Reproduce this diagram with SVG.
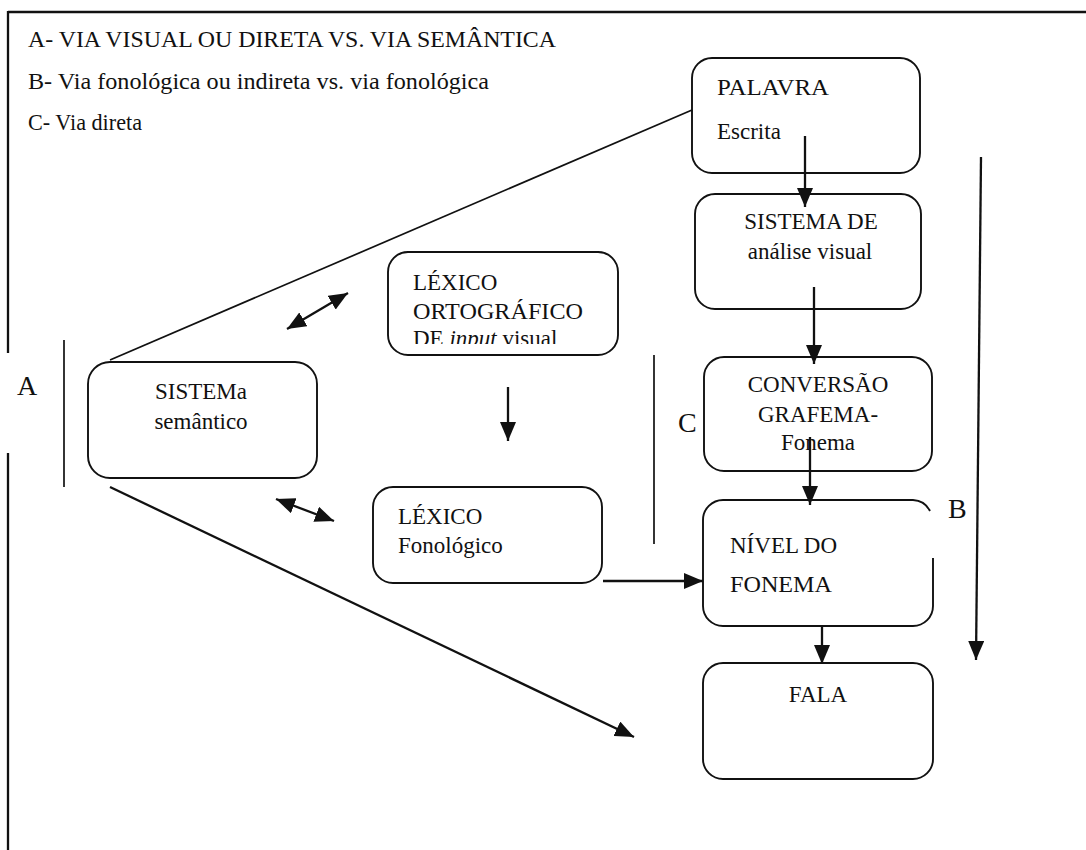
<svg xmlns="http://www.w3.org/2000/svg" width="1086" height="850" viewBox="0 0 1086 850">
<style>
  text { font-family: "Liberation Serif", Tinos, "Times New Roman", "DejaVu Serif", serif; font-size: 23px; fill: #111; }
  .big { font-size: 28px; }
  .box { fill: #fff; stroke: #111; stroke-width: 1.9; }
  .ln { fill: none; stroke: #111; stroke-width: 2.3; }
  .thin { fill: none; stroke: #111; stroke-width: 1.7; }
  .mid { text-anchor: middle; }
</style>
<defs>
  <marker id="ah" viewBox="0 0 19 16" refX="19" refY="8" markerWidth="19" markerHeight="16" orient="auto-start-reverse" markerUnits="userSpaceOnUse">
    <path d="M0,0 L19,8 L0,16 z" fill="#111"/>
  </marker>
  <clipPath id="clipOrto"><rect x="388" y="252" width="230" height="92"/></clipPath>
</defs>
<rect width="1086" height="850" fill="#fff"/>

<g id="frame">
  <line class="ln" x1="8" y1="12" x2="1086" y2="12"/>
  <line class="ln" x1="8" y1="11" x2="8" y2="353"/>
  <line class="ln" x1="8" y1="453" x2="8" y2="850"/>
</g>

<g id="legend">
  <text x="28" y="47" textLength="528" lengthAdjust="spacingAndGlyphs">A- VIA VISUAL OU DIRETA VS. VIA SEMÂNTICA</text>
  <text x="28" y="89" textLength="461" lengthAdjust="spacingAndGlyphs">B- Via fonológica ou indireta vs. via fonológica</text>
  <text x="28" y="130" textLength="114" lengthAdjust="spacingAndGlyphs">C- Via direta</text>
</g>

<g id="brackets">
  <line class="thin" x1="64" y1="340" x2="64" y2="487"/>
  <text class="big" x="17" y="395">A</text>
  <line class="thin" x1="654" y1="355" x2="654" y2="544"/>
  <text class="big" x="678" y="432">C</text>
  <text class="big" x="948" y="518">B</text>
</g>

<g id="palavra">
  <rect class="box" x="692" y="58" width="228" height="115" rx="20"/>
  <text x="717" y="95" textLength="112" lengthAdjust="spacingAndGlyphs">PALAVRA</text>
  <text x="717" y="139">Escrita</text>
</g>

<g id="sistema-analise">
  <rect class="box" x="695" y="194" width="226" height="115" rx="20"/>
  <text class="mid" x="811" y="229">SISTEMA DE</text>
  <text class="mid" x="810" y="259">análise visual</text>
</g>

<g id="lexico-ortografico">
  <rect class="box" x="388" y="252" width="230" height="103" rx="20"/>
  <g clip-path="url(#clipOrto)">
    <text x="413" y="290">LÉXICO</text>
    <text x="413" y="319" textLength="170" lengthAdjust="spacingAndGlyphs">ORTOGRÁFICO</text>
    <text x="413" y="346">DE <tspan font-style="italic">input</tspan> visual</text>
  </g>
</g>

<g id="sistema-semantico">
  <rect class="box" x="88" y="362" width="229" height="116" rx="22"/>
  <text class="mid" x="201" y="399">SISTEMa</text>
  <text class="mid" x="201" y="429">semântico</text>
</g>

<g id="lexico-fonologico">
  <rect class="box" x="373" y="487" width="229" height="96" rx="20"/>
  <text x="398" y="524">LÉXICO</text>
  <text x="398" y="553">Fonológico</text>
</g>

<g id="conversao">
  <rect class="box" x="704" y="357" width="228" height="114" rx="20"/>
  <text class="mid" x="818" y="392">CONVERSÃO</text>
  <text class="mid" x="818" y="422">GRAFEMA-</text>
  <text class="mid" x="818" y="450">Fonema</text>
</g>

<g id="nivel-fonema">
  <path class="box" d="M933,558 L933,606 A20,20 0 0 1 913,626 L723,626 A20,20 0 0 1 703,606 L703,520 A20,20 0 0 1 723,500 L913,500 A20,20 0 0 1 930,511"/>
  <text x="730" y="553">NÍVEL DO</text>
  <text x="730" y="592" textLength="102" lengthAdjust="spacingAndGlyphs">FONEMA</text>
</g>

<g id="fala">
  <rect class="box" x="703" y="663" width="230" height="116" rx="20"/>
  <text class="mid" x="818" y="702">FALA</text>
</g>

<g id="connectors">
  <line class="thin" x1="110" y1="360" x2="692" y2="110"/>
  <line class="ln" x1="805" y1="136" x2="805" y2="207" marker-end="url(#ah)"/>
  <line class="ln" x1="814" y1="287" x2="814" y2="364" marker-end="url(#ah)"/>
  <line class="ln" x1="810" y1="437" x2="810" y2="505" marker-end="url(#ah)"/>
  <line class="ln" x1="822" y1="626" x2="822" y2="664" marker-end="url(#ah)"/>
  <line class="ln" x1="981" y1="157" x2="976" y2="660" marker-end="url(#ah)"/>
  <line class="ln" x1="603" y1="581" x2="703" y2="581" marker-end="url(#ah)"/>
  <line class="ln" x1="508" y1="387" x2="508" y2="441" marker-end="url(#ah)"/>
  <line class="ln" x1="287" y1="329" x2="348" y2="293" marker-start="url(#ah)" marker-end="url(#ah)"/>
  <line class="ln" x1="276" y1="499" x2="334" y2="521" marker-start="url(#ah)" marker-end="url(#ah)"/>
  <line class="ln" x1="110" y1="487" x2="634" y2="737" marker-end="url(#ah)"/>
</g>
</svg>
